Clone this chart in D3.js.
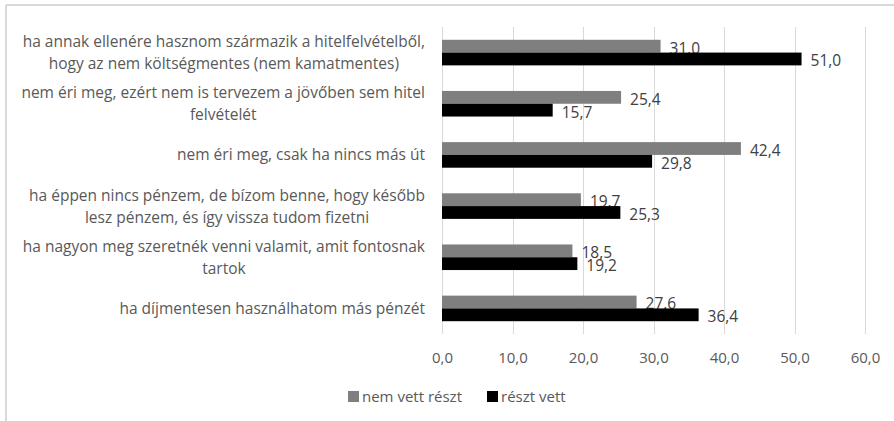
<!DOCTYPE html>
<html>
<head>
<meta charset="utf-8">
<script src="https://cdn.jsdelivr.net/npm/d3@7"></script>
<style>
  body { margin: 0; background: #fff; }
  svg { display: block; }
  text { font-family: "Open Sans", "Liberation Sans", sans-serif; }
</style>
</head>
<body>
<svg id="chart" width="894" height="421"></svg>
<script>
const categories = [
  ["ha annak ellenére hasznom származik a hitelfelvételből,", "hogy az nem költségmentes (nem kamatmentes)"],
  ["nem éri meg, ezért nem is tervezem a jövőben sem hitel", "felvételét"],
  ["nem éri meg, csak ha nincs más út"],
  ["ha éppen nincs pénzem, de bízom benne, hogy később", "lesz pénzem, és így vissza tudom fizetni"],
  ["ha nagyon meg szeretnék venni valamit, amit fontosnak", "tartok"],
  ["ha díjmentesen használhatom más pénzét"]
];
const seriesNames = ["nem vett részt", "részt vett"];
const nemVettReszt = [31.0, 25.4, 42.4, 19.7, 18.5, 27.6];
const resztVett = [51.0, 15.7, 29.8, 25.3, 19.2, 36.4];
const xTicks = [0, 10, 20, 30, 40, 50, 60];
const colors = ["#7f7f7f", "#000000"];

const svg = d3.select("#chart");

// outer border (top and left visible)
svg.append("line").attr("x1", 6).attr("x2", 894).attr("y1", 5).attr("y2", 5)
  .attr("stroke", "#d9d9d9").attr("stroke-width", 2);
svg.append("line").attr("x1", 6).attr("x2", 6).attr("y1", 5).attr("y2", 421)
  .attr("stroke", "#d9d9d9").attr("stroke-width", 2);

const plot = { left: 442, right: 865, top: 27, bottom: 334 };

const x = d3.scaleLinear().domain([0, 60]).range([plot.left, plot.right]);
const y = d3.scaleBand().domain(d3.range(categories.length)).range([plot.top, plot.bottom]).paddingInner(0.5).paddingOuter(0.25);
const ySub = d3.scaleBand().domain([0, 1]).range([0, y.bandwidth()]);

// gridlines
svg.append("g").selectAll("line").data(xTicks).join("line")
  .attr("x1", d => Math.round(x(d)) + 0.5).attr("x2", d => Math.round(x(d)) + 0.5)
  .attr("y1", plot.top).attr("y2", plot.bottom)
  .attr("stroke", "#d9d9d9").attr("stroke-width", 1);

// x axis labels
const fmt = v => d3.format(".1f")(v).replace(".", ",");
const xAxis = d3.axisBottom(x).tickValues(xTicks).tickFormat(fmt).tickSize(0).tickPadding(0);
const gx = svg.append("g").attr("transform", `translate(0,${plot.bottom + 18})`).call(xAxis);
gx.select(".domain").remove();
gx.selectAll("text").attr("font-size", 15).attr("fill", "#595959")
  .attr("font-family", "'Open Sans', 'Liberation Sans', sans-serif");

// bars
const series = [nemVettReszt, resztVett];
series.forEach((vals, si) => {
  const g = svg.append("g");
  g.selectAll("rect").data(vals).join("rect")
    .attr("x", x(0))
    .attr("y", (d, i) => y(i) + ySub(si))
    .attr("width", d => x(d) - x(0))
    .attr("height", ySub.bandwidth())
    .attr("fill", colors[si]);
  g.selectAll("text").data(vals).join("text")
    .attr("x", d => x(d) + 9)
    .attr("y", (d, i) => y(i) + ySub(si) + ySub.bandwidth() / 2 + 2)
    .attr("dy", "0.35em")
    .attr("font-size", 15.5)
    .attr("fill", "#404040")
    .text(fmt);
});

// category labels
const labelRight = 425;
const lineH = 22;
categories.forEach((lines, i) => {
  const cy = y(i) + y.bandwidth() / 2;
  const g = svg.append("g");
  const texts = lines.map((ln, j) => g.append("text")
    .attr("font-size", 15.5).attr("fill", "#595959")
    .attr("y", cy + (j - (lines.length - 1) / 2) * lineH)
    .attr("dy", "0.35em")
    .attr("text-anchor", "middle")
    .text(ln));
  const maxW = d3.max(texts, t => t.node().getComputedTextLength());
  texts.forEach(t => t.attr("x", labelRight - maxW / 2));
});

// legend
const legend = svg.append("g");
const legendItems = [{ name: seriesNames[0], x: 348 }, { name: seriesNames[1], x: 487 }];
legendItems.forEach((it, i) => {
  legend.append("rect").attr("x", it.x).attr("y", 391).attr("width", 11).attr("height", 11).attr("fill", colors[i]);
  legend.append("text").attr("x", it.x + 14).attr("y", 397).attr("dy", "0.35em")
    .attr("font-size", 15).attr("fill", "#595959").text(it.name);
});
</script>
</body>
</html>
